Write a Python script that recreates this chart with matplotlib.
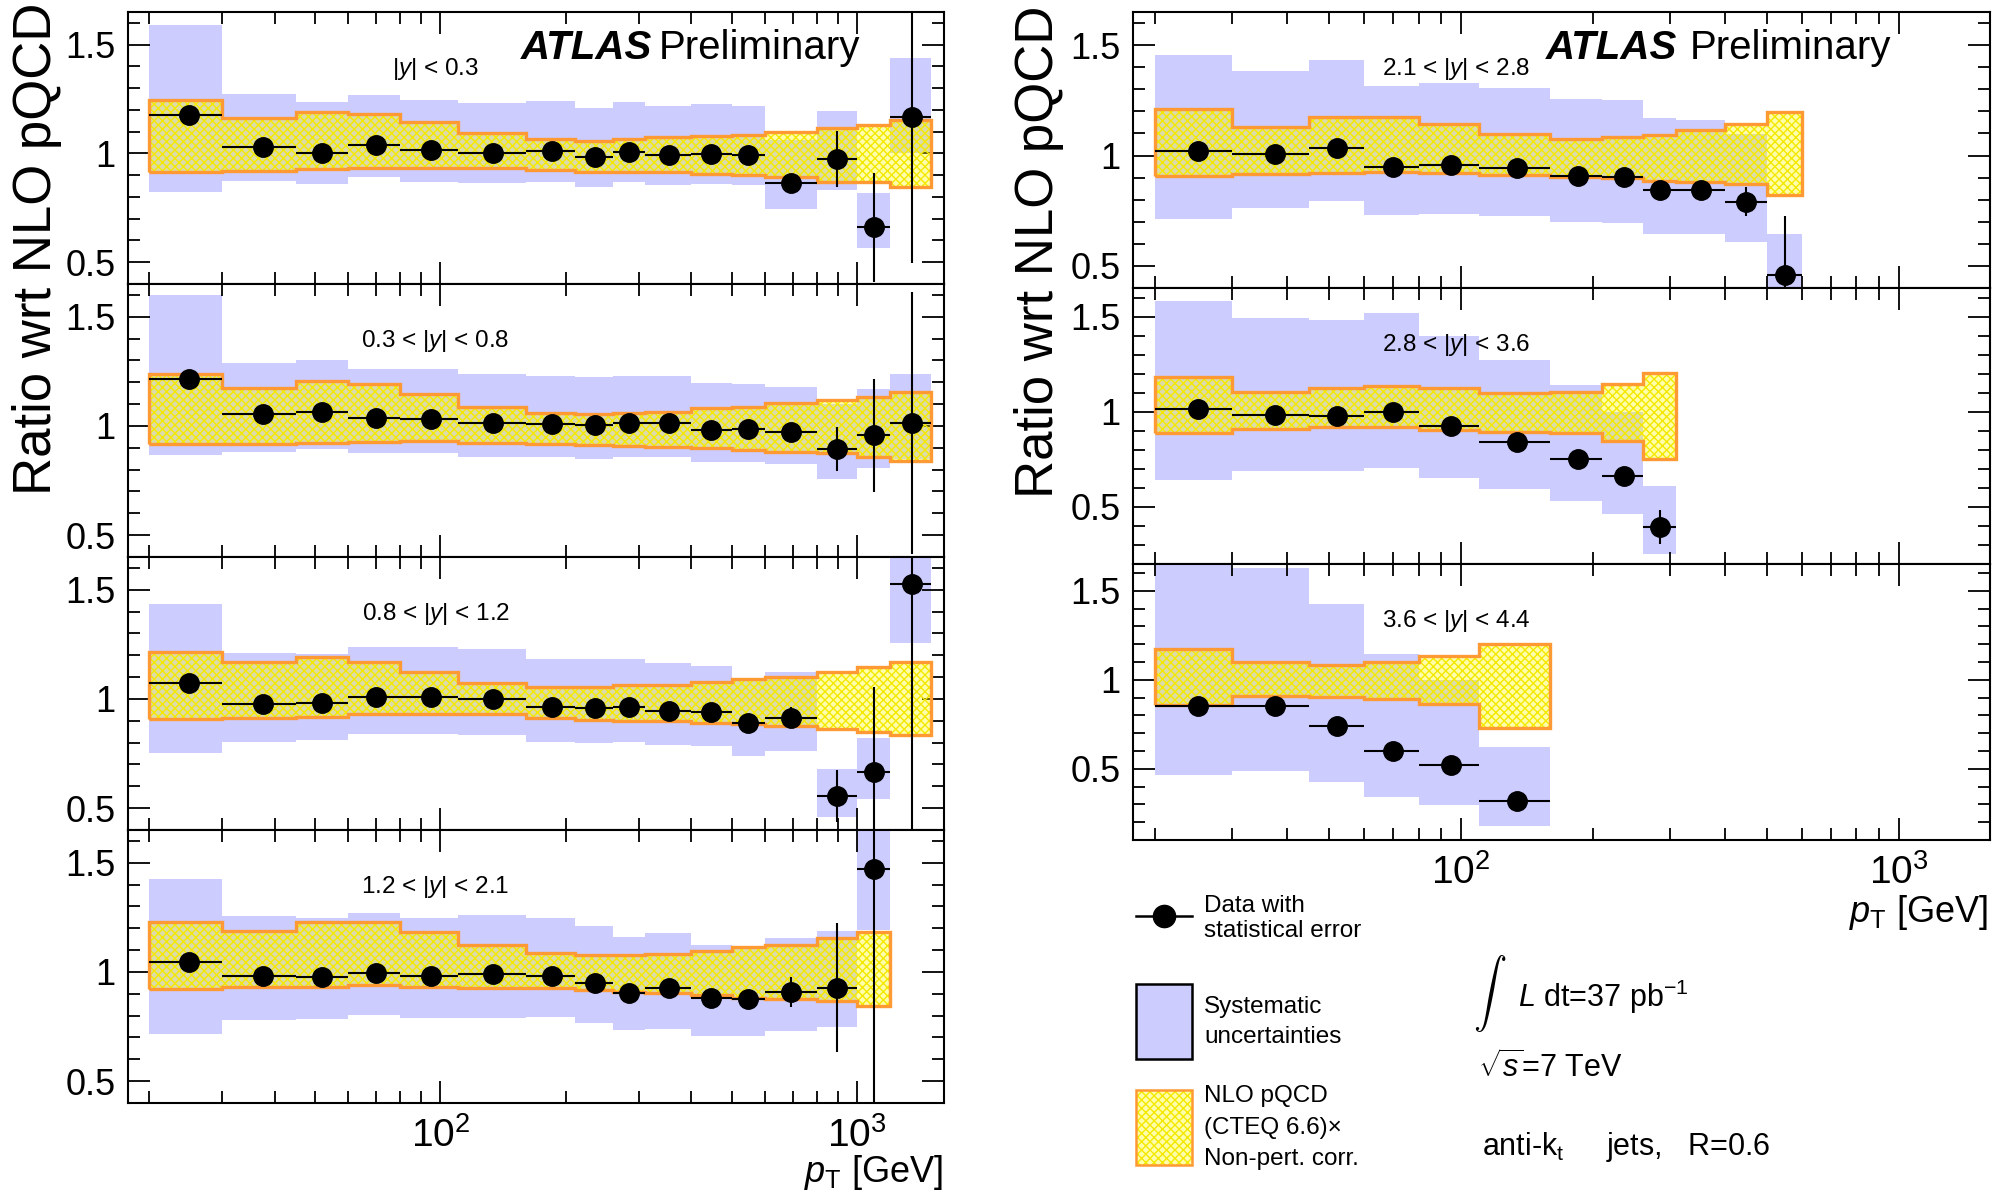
import numpy as np
import matplotlib
matplotlib.use("Agg")
import matplotlib.pyplot as plt
from matplotlib.ticker import MultipleLocator, FuncFormatter, NullFormatter, LogLocator
from matplotlib.patches import Rectangle
from matplotlib.lines import Line2D

plt.rcParams["font.family"] = ["Liberation Sans", "DejaVu Sans"]
plt.rcParams["mathtext.fontset"] = "custom"
plt.rcParams["mathtext.rm"] = "Liberation Sans"
plt.rcParams["mathtext.it"] = "Liberation Sans:italic"
plt.rcParams["mathtext.bf"] = "Liberation Sans:bold"
plt.rcParams["hatch.linewidth"] = 1.0

# ---------------------------------------------------------------- data
# jet pT bin edges [GeV] and mean pT of the data points
pt_edges = [20, 30, 45, 60, 80, 110, 160, 210, 260, 310, 400, 500, 600, 800, 1000, 1200, 1500]
pt_mean = [25, 37.5, 52, 70, 95, 134, 185, 235, 284, 353, 447, 548, 695, 895, 1095, 1350]

# |y| < 0.3
y03_ratio = [1.175, 1.031, 1.002, 1.037, 1.017, 1.002, 1.009, 0.983, 1.005, 0.994, 0.998, 0.992, 0.864, 0.974, 0.66, 1.166]
y03_stat = [0.01, 0.01, 0.01, 0.01, 0.01, 0.01, 0.01, 0.01, 0.01, 0.01, 0.01, 0.015, 0.03, 0.13, 0.25, 0.67]
y03_sys_hi = [1.592, 1.275, 1.236, 1.270, 1.247, 1.232, 1.242, 1.209, 1.236, 1.216, 1.227, 1.219, 1.063, 1.196, 0.817, 1.439]
y03_sys_lo = [0.821, 0.874, 0.859, 0.891, 0.871, 0.863, 0.871, 0.848, 0.867, 0.856, 0.859, 0.856, 0.744, 0.833, 0.567, 1.0]
y03_th_hi = [1.244, 1.163, 1.19, 1.183, 1.144, 1.094, 1.066, 1.058, 1.066, 1.074, 1.081, 1.086, 1.1, 1.115, 1.129, 1.152]
y03_th_lo = [0.913, 0.920, 0.928, 0.933, 0.933, 0.933, 0.925, 0.917, 0.913, 0.913, 0.906, 0.899, 0.89, 0.871, 0.867, 0.845]

# 0.3 < |y| < 0.8
y08_ratio = [1.213, 1.053, 1.065, 1.038, 1.030, 1.015, 1.011, 1.005, 1.012, 1.015, 0.982, 0.985, 0.973, 0.896, 0.957, 1.012]
y08_stat = [0.01, 0.01, 0.01, 0.01, 0.01, 0.01, 0.01, 0.01, 0.01, 0.01, 0.01, 0.01, 0.015, 0.10, 0.26, 0.6]
y08_sys_hi = [1.601, 1.289, 1.30, 1.262, 1.259, 1.239, 1.228, 1.224, 1.231, 1.231, 1.195, 1.19, 1.18, 1.099, 1.167, 1.239]
y08_sys_lo = [0.868, 0.883, 0.896, 0.875, 0.875, 0.86, 0.86, 0.851, 0.858, 0.858, 0.833, 0.836, 0.825, 0.756, 0.807, 0.85]
y08_th_hi = [1.236, 1.175, 1.205, 1.19, 1.148, 1.087, 1.058, 1.056, 1.061, 1.065, 1.081, 1.088, 1.103, 1.119, 1.134, 1.155]
y08_th_lo = [0.916, 0.919, 0.924, 0.928, 0.932, 0.924, 0.919, 0.913, 0.909, 0.904, 0.898, 0.889, 0.881, 0.878, 0.858, 0.84]

# 0.8 < |y| < 1.2
y12_ratio = [1.074, 0.977, 0.980, 1.008, 1.008, 1.0, 0.965, 0.960, 0.965, 0.945, 0.939, 0.889, 0.915, 0.555, 0.664, 1.527]
y12_stat = [0.01, 0.01, 0.01, 0.01, 0.01, 0.01, 0.01, 0.01, 0.01, 0.01, 0.01, 0.015, 0.05, 0.12, 0.39, 1.2]
y12_sys_hi = [1.436, 1.211, 1.205, 1.239, 1.239, 1.231, 1.185, 1.185, 1.181, 1.163, 1.152, 1.094, 1.122, 0.681, 0.821, 1.8]
y12_sys_lo = [0.752, 0.802, 0.813, 0.839, 0.839, 0.836, 0.805, 0.798, 0.801, 0.79, 0.783, 0.74, 0.763, 0.459, 0.544, 1.258]
y12_th_hi = [1.213, 1.167, 1.19, 1.17, 1.122, 1.071, 1.056, 1.056, 1.064, 1.064, 1.079, 1.09, 1.102, 1.122, 1.147, 1.167]
y12_th_lo = [0.909, 0.912, 0.916, 0.93, 0.932, 0.93, 0.912, 0.904, 0.901, 0.897, 0.892, 0.884, 0.878, 0.863, 0.851, 0.836]

# 1.2 < |y| < 2.1
y21_ratio = [1.046, 0.980, 0.977, 0.997, 0.980, 0.992, 0.982, 0.951, 0.905, 0.927, 0.882, 0.878, 0.908, 0.927, 1.471]
y21_stat = [0.01, 0.01, 0.01, 0.01, 0.01, 0.01, 0.01, 0.01, 0.01, 0.01, 0.015, 0.02, 0.07, 0.295, 1.1]
y21_sys_hi = [1.425, 1.255, 1.249, 1.271, 1.248, 1.263, 1.249, 1.211, 1.161, 1.180, 1.125, 1.115, 1.156, 1.187, 1.9]
y21_sys_lo = [0.717, 0.781, 0.783, 0.804, 0.789, 0.791, 0.794, 0.766, 0.732, 0.740, 0.709, 0.709, 0.729, 0.748, 1.19]
y21_th_hi = [1.229, 1.187, 1.229, 1.229, 1.183, 1.125, 1.089, 1.076, 1.076, 1.081, 1.096, 1.112, 1.125, 1.157, 1.183]
y21_th_lo = [0.924, 0.931, 0.931, 0.939, 0.931, 0.927, 0.927, 0.916, 0.908, 0.904, 0.893, 0.882, 0.878, 0.867, 0.843]

# 2.1 < |y| < 2.8
y28_ratio = [1.02, 1.005, 1.035, 0.95, 0.959, 0.942, 0.909, 0.901, 0.843, 0.843, 0.79, 0.46]
y28_stat = [0.01, 0.01, 0.01, 0.01, 0.01, 0.01, 0.01, 0.01, 0.01, 0.015, 0.066, 0.266]
y28_sys_hi = [1.456, 1.384, 1.433, 1.316, 1.33, 1.307, 1.255, 1.251, 1.17, 1.163, 1.099, 0.643]
y28_sys_lo = [0.714, 0.764, 0.795, 0.731, 0.737, 0.726, 0.699, 0.696, 0.646, 0.643, 0.608, 0.3]
y28_th_hi = [1.21, 1.129, 1.175, 1.175, 1.141, 1.099, 1.073, 1.084, 1.091, 1.114, 1.141, 1.195]
y28_th_lo = [0.909, 0.916, 0.921, 0.927, 0.921, 0.913, 0.904, 0.898, 0.886, 0.878, 0.871, 0.821]

# 2.8 < |y| < 3.6
y36_ratio = [1.014, 0.984, 0.979, 1.0, 0.927, 0.839, 0.752, 0.66, 0.394]
y36_stat = [0.01, 0.01, 0.01, 0.01, 0.01, 0.01, 0.01, 0.02, 0.09]
y36_sys_hi = [1.581, 1.494, 1.482, 1.517, 1.398, 1.272, 1.14, 1.0, 0.609]
y36_sys_lo = [0.639, 0.691, 0.688, 0.705, 0.653, 0.592, 0.529, 0.461, 0.255]
y36_th_hi = [1.183, 1.106, 1.127, 1.133, 1.127, 1.098, 1.105, 1.148, 1.201]
y36_th_lo = [0.888, 0.909, 0.918, 0.918, 0.904, 0.892, 0.888, 0.848, 0.752]

# 3.6 < |y| < 4.4
y44_ratio = [0.85, 0.85, 0.743, 0.601, 0.519, 0.320]
y44_stat = [0.01, 0.01, 0.01, 0.01, 0.01, 0.01]
y44_sys_hi = [1.8, 1.627, 1.425, 1.144, 1.0, 0.622]
y44_sys_lo = [0.466, 0.489, 0.425, 0.341, 0.294, 0.18]
y44_th_hi = [1.172, 1.099, 1.084, 1.099, 1.135, 1.2]
y44_th_lo = [0.856, 0.906, 0.903, 0.893, 0.865, 0.728]

rapidity_labels = [
    r"|$\it{y}$| < 0.3", r"0.3 < |$\it{y}$| < 0.8", r"0.8 < |$\it{y}$| < 1.2",
    r"1.2 < |$\it{y}$| < 2.1", r"2.1 < |$\it{y}$| < 2.8", r"2.8 < |$\it{y}$| < 3.6",
    r"3.6 < |$\it{y}$| < 4.4",
]

# ---------------------------------------------------------------- style
BLUE = "#ccccff"
ORANGE = "#ff9933"
HATCH_YELLOW = "#f4e800"
FILL_YELLOW = (1.0, 1.0, 0.0, 0.33)

W, H = 2007, 1199
fig = plt.figure(figsize=(W / 100, H / 100), dpi=100)


def axes_px(x0, y0, x1, y1):
    return fig.add_axes([x0 / W, 1 - y1 / H, (x1 - x0) / W, (y1 - y0) / H])


def ftext(x, y, s, **kw):
    return fig.text(x / W, 1 - y / H, s, **kw)


def draw_panel(ax, ylim, ratio, stat, sys_hi, sys_lo, th_hi, th_lo, label, bottom):
    n = len(ratio)
    edges = np.array(pt_edges[: n + 1], dtype=float)
    xm = np.array(pt_mean[:n], dtype=float)
    ratio = np.array(ratio)
    sys_hi, sys_lo = np.array(sys_hi), np.array(sys_lo)
    th_hi, th_lo = np.array(th_hi), np.array(th_lo)

    # systematic uncertainty boxes
    ax.bar(edges[:-1], sys_hi - sys_lo, width=np.diff(edges), bottom=sys_lo,
           align="edge", color=BLUE, linewidth=0, zorder=1)
    # NLO prediction band: patterned fill and orange outline
    ax.stairs(th_hi, edges, baseline=th_lo, fill=True, facecolor=FILL_YELLOW,
              edgecolor=HATCH_YELLOW, hatch="xxxx", linewidth=0, zorder=2)
    ax.stairs(th_hi, edges, baseline=th_lo, fill=False, edgecolor=ORANGE,
              linewidth=2.4, zorder=3)
    # data with statistical errors
    ax.errorbar(xm, ratio, yerr=stat, xerr=[xm - edges[:-1], edges[1:] - xm],
                fmt="o", color="black", ms=14, elinewidth=1.5, capsize=0, zorder=5)

    ax.set_xscale("log")
    ax.set_xlim(17.8, 1615)
    ax.set_ylim(*ylim)
    ax.yaxis.set_major_locator(MultipleLocator(0.5))
    ax.yaxis.set_minor_locator(MultipleLocator(0.1))
    ax.yaxis.set_major_formatter(FuncFormatter(lambda v, p: f"{v:g}"))
    ax.xaxis.set_major_locator(LogLocator(base=10, numticks=10))
    ax.xaxis.set_minor_locator(LogLocator(base=10, subs=np.arange(2, 10), numticks=20))
    ax.xaxis.set_minor_formatter(NullFormatter())
    ax.tick_params(which="both", direction="in", top=True, right=True, width=1.3)
    ax.tick_params(which="major", length=16)
    ax.tick_params(which="minor", length=8.5)
    ax.tick_params(axis="y", labelsize=26, pad=9)
    ax.tick_params(axis="x", labelsize=28, pad=10)
    if not bottom:
        ax.tick_params(axis="x", labelbottom=False)
    for sp in ax.spines.values():
        sp.set_linewidth(1.5)

    h_px = ax.get_position().height * H
    ax.text(0.377, 1 - 63 / h_px, label, transform=ax.transAxes, ha="center",
            va="baseline", fontsize=17.5)


# ---------------------------------------------------------------- left column
left_tops = [12, 284, 557, 830, 1103]
left_sets = [
    (y03_ratio, y03_stat, y03_sys_hi, y03_sys_lo, y03_th_hi, y03_th_lo),
    (y08_ratio, y08_stat, y08_sys_hi, y08_sys_lo, y08_th_hi, y08_th_lo),
    (y12_ratio, y12_stat, y12_sys_hi, y12_sys_lo, y12_th_hi, y12_th_lo),
    (y21_ratio, y21_stat, y21_sys_hi, y21_sys_lo, y21_th_hi, y21_th_lo),
]
for i, vals in enumerate(left_sets):
    ax = axes_px(128, left_tops[i], 944, left_tops[i + 1])
    draw_panel(ax, (0.4, 1.65), *vals, rapidity_labels[i], bottom=(i == 3))

# ---------------------------------------------------------------- right column
right_tops = [12, 288, 564, 840]
right_sets = [
    ((0.4, 1.65), (y28_ratio, y28_stat, y28_sys_hi, y28_sys_lo, y28_th_hi, y28_th_lo)),
    ((0.2, 1.65), (y36_ratio, y36_stat, y36_sys_hi, y36_sys_lo, y36_th_hi, y36_th_lo)),
    ((0.1, 1.65), (y44_ratio, y44_stat, y44_sys_hi, y44_sys_lo, y44_th_hi, y44_th_lo)),
]
for i, (yl, vals) in enumerate(right_sets):
    ax = axes_px(1133, right_tops[i], 1990, right_tops[i + 1])
    draw_panel(ax, yl, *vals, rapidity_labels[4 + i], bottom=(i == 2))

# ---------------------------------------------------------------- axis titles
ftext(37, 249, "Ratio wrt NLO pQCD", rotation=90, ha="center", va="center", fontsize=38)
ftext(1039, 252, "Ratio wrt NLO pQCD", rotation=90, ha="center", va="center", fontsize=38)
ftext(943, 1172, r"$\it{p}_{\rm T}$ [GeV]", ha="right", va="center", fontsize=26)
ftext(1988, 913, r"$\it{p}_{\rm T}$ [GeV]", ha="right", va="center", fontsize=26)

# experiment tags
for xa, xp in [(521, 659), (1546, 1690)]:
    ftext(xa, 59, "ATLAS", fontsize=29, weight="bold", style="italic", va="baseline")
    ftext(xp, 59, "Preliminary", fontsize=29, va="baseline")

# ---------------------------------------------------------------- legend
ov = fig.add_axes([0, 0, 1, 1], zorder=-1)
ov.set_xlim(0, W)
ov.set_ylim(H, 0)
ov.axis("off")
ov.add_line(Line2D([1136, 1192], [916, 916], color="black", lw=1.8))
ov.add_line(Line2D([1164], [916], marker="o", ms=16, color="black"))
ov.add_patch(Rectangle((1136, 984), 56, 75, facecolor=BLUE, edgecolor="black", lw=1.8))
ov.add_patch(Rectangle((1136, 1090), 56, 75, facecolor=FILL_YELLOW, edgecolor=HATCH_YELLOW,
                       hatch="xxxx", lw=0))
ov.add_patch(Rectangle((1136, 1090), 56, 75, facecolor="none", edgecolor=ORANGE, lw=1.8))

leg_kw = dict(fontsize=17.5, va="baseline", ha="left")
ftext(1204, 912, "Data with", **leg_kw)
ftext(1204, 937, "statistical error", **leg_kw)
ftext(1204, 1013, "Systematic", **leg_kw)
ftext(1204, 1043, "uncertainties", **leg_kw)
ftext(1204, 1102, "NLO pQCD", **leg_kw)
ftext(1204, 1134, "(CTEQ 6.6)\u00d7", **leg_kw)
ftext(1204, 1165, "Non-pert. corr.", **leg_kw)

# run conditions
ftext(1490, 993, r"$\int$", fontsize=24, ha="center", va="center", math_fontfamily="cm")
ftext(1518, 1007, r"$\it{L}$ dt=37 pb$^{-1}$", fontsize=22, va="baseline")
ftext(1478, 1077, r"$\sqrt{s}$=7 TeV", fontsize=22, va="baseline")
ftext(1482, 1155, r"anti-k$_{\rm t}$     jets,   R=0.6", fontsize=22, va="baseline")

fig.savefig("out.png", dpi=100)
